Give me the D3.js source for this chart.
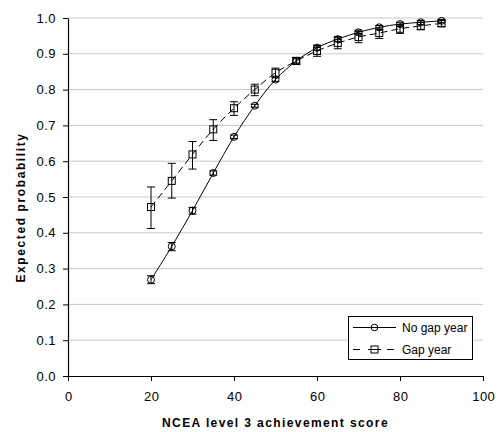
<!DOCTYPE html>
<html><head><meta charset="utf-8">
<script src="https://cdn.jsdelivr.net/npm/d3@7"></script>
<style>
body{margin:0;background:#fff;}
svg{display:block;font-family:"Liberation Sans",Arial,sans-serif;}
</style></head>
<body><svg id="c" width="498" height="432"></svg>
<script>
const scores = [20,25,30,35,40,45,50,55,60,65,70,75,80,85,90];
const noGap = [0.269,0.362,0.462,0.567,0.668,0.755,0.828,0.880,0.917,0.941,0.960,0.974,0.983,0.988,0.992];
const noGapLo = [0.258,0.350,0.452,0.561,0.663,0.751,0.823,0.874,0.910,0.934,0.953,0.967,0.976,0.982,0.987];
const noGapHi = [0.280,0.373,0.471,0.573,0.673,0.759,0.833,0.886,0.924,0.948,0.966,0.979,0.988,0.993,0.996];
const gap = [0.472,0.545,0.619,0.689,0.748,0.800,0.847,0.880,0.908,0.930,0.947,0.958,0.970,0.978,0.985];
const gapLo = [0.412,0.497,0.578,0.658,0.728,0.783,0.835,0.870,0.893,0.914,0.931,0.943,0.957,0.967,0.976];
const gapHi = [0.528,0.594,0.655,0.716,0.766,0.815,0.860,0.890,0.922,0.945,0.962,0.972,0.982,0.988,0.993];
const xTicks = [0,20,40,60,80,100];
const yTicks = [0.0,0.1,0.2,0.3,0.4,0.5,0.6,0.7,0.8,0.9,1.0];
const seriesNames = ["No gap year","Gap year"];

const svg = d3.select("#c");
const x = d3.scaleLinear().domain([0,100]).range([68,483]);
const y = d3.scaleLinear().domain([0,1]).range([376,18]);

// gridlines
svg.append("g").selectAll("line").data(yTicks.filter(d=>d>0)).join("line")
  .attr("x1",x(0)).attr("x2",x(100)).attr("y1",d=>y(d)).attr("y2",d=>y(d))
  .attr("stroke","#c8c8c8").attr("stroke-width",1);

// axes
const xAxis = svg.append("g").attr("transform",`translate(0,${y(0)})`)
  .call(d3.axisBottom(x).tickValues(xTicks).tickSize(5).tickSizeOuter(0).tickPadding(11));
const yAxis = svg.append("g").attr("transform",`translate(${x(0)},0)`)
  .call(d3.axisLeft(y).tickValues(yTicks).tickFormat(d3.format(".1f")).tickSize(5).tickSizeOuter(0).tickPadding(7));
[xAxis,yAxis].forEach(a=>{
  a.selectAll("text").attr("font-size",13).attr("fill","#000").attr("letter-spacing",0.5)
    .attr("font-family","Liberation Sans, Arial, sans-serif");
  a.selectAll("line,path").attr("stroke","#000");
});
xAxis.selectAll("text").attr("dx",0.25);
xAxis.select(".domain").attr("stroke-width",1.2);
yAxis.select(".domain").attr("stroke-width",1.2);

// titles
svg.append("text").attr("x",275.5).attr("y",426.5).attr("text-anchor","middle")
  .attr("font-size",12).attr("font-weight","bold").attr("letter-spacing",1.4)
  .text("NCEA level 3 achievement score");
svg.append("text").attr("transform","translate(24.5,207.5) rotate(-90)").attr("text-anchor","middle")
  .attr("font-size",12).attr("font-weight","bold").attr("letter-spacing",1.6)
  .text("Expected probability");

const line = d3.line().x(d=>x(d[0])).y(d=>y(d[1])).curve(d3.curveCatmullRom.alpha(0.5));

function drawSeries(vals, lo, hi, dashed, marker){
  const pts = scores.map((s,i)=>[s,vals[i]]);
  const eb = svg.append("g").attr("stroke","#000").attr("stroke-width",1);
  scores.forEach((s,i)=>{
    eb.append("line").attr("x1",x(s)).attr("x2",x(s)).attr("y1",y(lo[i])).attr("y2",y(hi[i]));
    eb.append("line").attr("x1",x(s)-4).attr("x2",x(s)+4).attr("y1",y(lo[i])).attr("y2",y(lo[i]));
    eb.append("line").attr("x1",x(s)-4).attr("x2",x(s)+4).attr("y1",y(hi[i])).attr("y2",y(hi[i]));
  });
  svg.append("path").datum(pts).attr("d",line).attr("fill","none").attr("stroke","#000")
    .attr("stroke-width",1).attr("stroke-dasharray",dashed?"7,4":null);
  const g = svg.append("g");
  pts.forEach(p=>{
    if(marker==="circle"){
      g.append("circle").attr("cx",x(p[0])).attr("cy",y(p[1])).attr("r",3.5)
        .attr("fill","none").attr("stroke","#000").attr("stroke-width",1);
    } else {
      g.append("rect").attr("x",x(p[0])-3.5).attr("y",y(p[1])-3.5).attr("width",7).attr("height",7)
        .attr("fill","none").attr("stroke","#000").attr("stroke-width",1);
    }
  });
}
drawSeries(noGap,noGapLo,noGapHi,false,"circle");
drawSeries(gap,gapLo,gapHi,true,"square");

// legend
const lg = svg.append("g");
lg.append("rect").attr("x",348.5).attr("y",316.5).attr("width",124).attr("height",43)
  .attr("fill","#fff").attr("stroke","#000").attr("stroke-width",1);
seriesNames.forEach((n,i)=>{
  const cy = i ? 349.5 : 327.5;
  if(i===0){
    lg.append("line").attr("x1",353).attr("x2",396).attr("y1",cy).attr("y2",cy).attr("stroke","#000");
    lg.append("circle").attr("cx",374.5).attr("cy",cy).attr("r",3.3).attr("fill","none").attr("stroke","#000");
  } else {
    [[353,360],[368,381],[387,394]].forEach(s=>{
      lg.append("line").attr("x1",s[0]).attr("x2",s[1]).attr("y1",cy).attr("y2",cy).attr("stroke","#000");
    });
    lg.append("rect").attr("x",371).attr("y",cy-3.5).attr("width",7).attr("height",7).attr("fill","none").attr("stroke","#000");
  }
  lg.append("text").attr("x",402).attr("y",cy+4).attr("font-size",12).text(n);
});
</script></body></html>
